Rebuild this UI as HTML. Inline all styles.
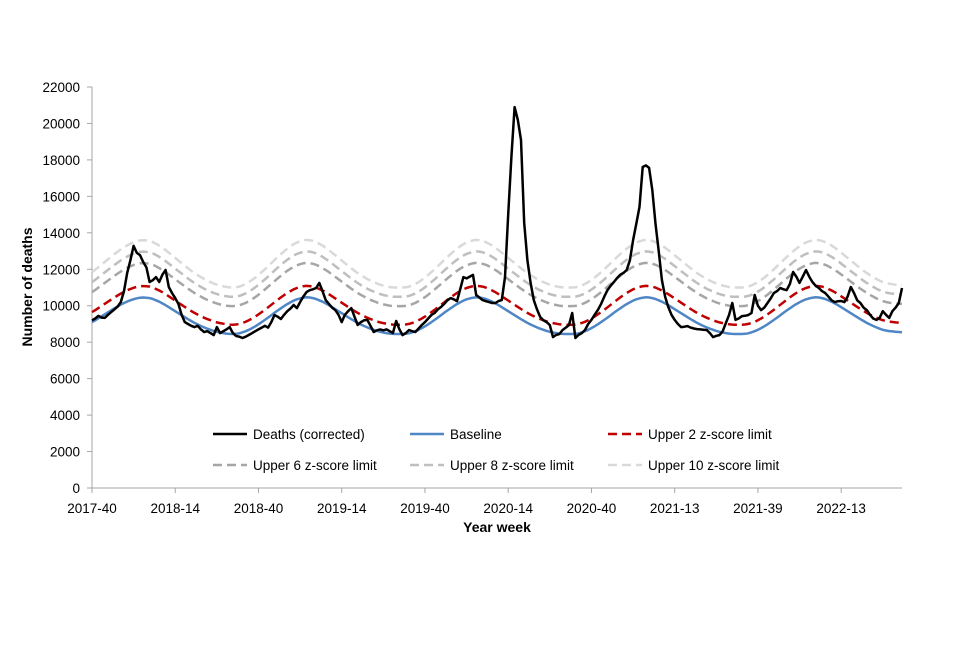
<!DOCTYPE html>
<html><head><meta charset="utf-8"><style>
body{margin:0;background:#fff;}
svg text{font-family:"Liberation Sans",Arial,sans-serif;fill:#000;}
</style></head><body>
<svg id="chart" width="960" height="640" viewBox="0 0 960 640"></svg>
<script>
const deaths=[9200,9300,9440,9350,9330,9500,9650,9800,9950,10200,
10800,11800,12500,13280,12900,12780,12400,12100,11300,11400,
11570,11300,11700,11960,11030,10700,10420,10100,9500,9100,
9000,8900,8830,8900,8700,8560,8600,8500,8390,8830,
8500,8600,8700,8830,8500,8340,8300,8230,8300,8400,
8500,8600,8700,8800,8900,8800,9100,9490,9400,9270,
9500,9700,9850,10040,9870,10200,10500,10750,10850,10900,
10970,11250,10800,10310,10100,9900,9760,9500,9100,9500,
9700,9870,9400,8940,9100,9200,9220,8900,8560,8650,
8700,8650,8700,8600,8500,9160,8700,8390,8500,8670,
8600,8560,8750,8940,9100,9300,9490,9600,9800,9930,
10100,10300,10420,10350,10250,10900,11570,11500,11600,11690,
10590,10450,10310,10250,10200,10150,10150,10260,10310,11570,
15000,18160,20900,20200,19090,14540,12500,11250,10310,9800,
9380,9200,9100,8940,8280,8400,8450,8670,8800,8940,
9600,8230,8400,8500,8670,9000,9220,9500,9760,10100,
10500,10860,11100,11300,11520,11700,11800,11960,12500,13600,
14500,15420,17610,17700,17560,16350,14500,13000,11410,10500,
9930,9500,9220,9000,8830,8850,8880,8800,8750,8720,
8700,8680,8670,8500,8280,8350,8390,8600,9050,9500,
10150,9220,9300,9430,9450,9490,9600,10590,10000,9760,
9900,10150,10400,10700,10800,10970,10900,10860,11200,11850,
11600,11250,11600,11960,11600,11300,11100,10970,10800,10700,
10500,10300,10200,10250,10260,10200,10500,11030,10700,10300,
10150,9900,9760,9500,9300,9220,9330,9700,9500,9330,
9700,9900,10150,10970];
const baseline=[9100,9200,9310,9420,9530,9640,9750,9860,9960,10060,10150,10230,10300,10360,10410,10440,10450,10440,
10420,10370,10300,10220,10130,10030,9920,9810,9700,9590,9480,9370,9260,9160,9060,8970,8890,8810,8740,8680,8620,8570,8530,8500,8470,8455,
8450,8460,8490,8540,8600,8680,8770,8870,8980,9100,9220,9350,9480,9610,9740,9860,9980,10090,10190,10280,10350,10400,10440,10460,10450,
10420,10370,10300,10220,10130,10030,9920,9810,9700,9590,9480,9370,9260,9160,9060,8970,8890,8810,8740,8680,8620,8570,8530,8500,8470,8455,8450,8450,
8450,8460,8490,8540,8600,8680,8770,8870,8980,9100,9220,9350,9480,9610,9740,9860,9980,10090,10190,10280,10350,10400,10440,10460,10450,
10420,10370,10300,10220,10130,10030,9920,9810,9700,9590,9480,9370,9260,9160,9060,8970,8890,8810,8740,8680,8620,8570,8530,8500,8470,8455,8450,8450,
8450,8460,8490,8540,8600,8680,8770,8870,8980,9100,9220,9350,9480,9610,9740,9860,9980,10090,10190,10280,10350,10400,10440,10460,10450,
10420,10370,10300,10220,10130,10030,9920,9810,9700,9590,9480,9370,9260,9160,9060,8970,8890,8810,8740,8680,8620,8570,8530,8500,8470,8455,8450,8450,
8450,8460,8490,8540,8600,8680,8770,8870,8980,9100,9220,9350,9480,9610,9740,9860,9980,10090,10190,10280,10350,10400,10440,10460,10450,
10420,10370,10300,10220,10130,10030,9920,9810,9700,9590,9480,9370,9260,9160,9060,8970,8890,8810,8740,8680,8640,8610,8590,8570,8560,8550];
const sdAtTrough=[255];
const sdAtPeak=[315];
const limitMultipliers=[2,6,8,10];
const yTicks=[0,2000,4000,6000,8000,10000,12000,14000,16000,18000,20000,22000];
const xTickLabels=["2017-40","2018-14","2018-40","2019-14","2019-40","2020-14","2020-40","2021-13","2021-39","2022-13"];
const xTickIndex=[0,26,52,78,104,130,156,182,208,234];

const NS="http://www.w3.org/2000/svg";
const svg=document.getElementById('chart');
const X0=92,X1=902,Y0=488,Y1=87,YMAX=22000,N=deaths.length;
const xs=i=>X0+(X1-X0)*i/(N-1);
const ys=v=>Y0-(Y0-Y1)*v/YMAX;
function mk(tag,attrs,parent){const e=document.createElementNS(NS,tag);for(const k in attrs)e.setAttribute(k,attrs[k]);(parent||svg).appendChild(e);return e;}

let ax=mk('line',{x1:X0,y1:Y1,x2:X0,y2:Y0,stroke:'#a6a6a6','stroke-width':1});


ax=mk('line',{x1:X0,y1:Y0,x2:X1,y2:Y0,stroke:'#a6a6a6','stroke-width':1});


yTicks.forEach(v=>{
  const t=mk('line',{x1:X0-5,y1:ys(v),x2:X0,y2:ys(v),stroke:'#a6a6a6'});
  
  
  const l=mk('text',{x:X0-12,y:ys(v)+5,'text-anchor':'end','font-size':13.5});
  l.textContent=v;
  
  
});
xTickIndex.forEach((ix,k)=>{
  const t=mk('line',{x1:xs(ix),y1:Y0,x2:xs(ix),y2:Y0+5,stroke:'#a6a6a6'});
  
  
  const l=mk('text',{x:xs(ix),y:Y0+25,'text-anchor':'middle','font-size':13.5});
  l.textContent=xTickLabels[k];
  
  
});
let tt=mk('text',{x:497,y:532,'text-anchor':'middle','font-size':14,'font-weight':'bold'});
tt.textContent='Year week';


tt=mk('text',{x:32,y:287,'text-anchor':'middle','font-size':14,'font-weight':'bold',transform:'rotate(-90 32 287)'});
tt.textContent='Number of deaths';



function path(vals,color,dash,w,name){
  let d='';vals.forEach((v,i)=>{d+=(i?'L':'M')+xs(i).toFixed(1)+','+ys(v).toFixed(1);});
  const p=mk('path',{d:d,fill:'none',stroke:color,'stroke-width':w,'stroke-dasharray':dash,'stroke-linejoin':'round'});
  
  
}
const bMin=Math.min(...baseline),bMax=Math.max(...baseline);
const sdOf=b=>sdAtTrough[0]+(sdAtPeak[0]-sdAtTrough[0])*(b-bMin)/(bMax-bMin);
const limColors=['#c00000','#a6a6a6','#bfbfbf','#d9d9d9'];
const limNames=['upper-2-z-line','upper-6-z-line','upper-8-z-line','upper-10-z-line'];
for(let k=limitMultipliers.length-1;k>=0;k--){
  path(baseline.map(b=>b+limitMultipliers[k]*sdOf(b)),limColors[k],'9 5',2.5,limNames[k]);
}
path(baseline,'#4f86c6','none',2.5,'baseline-line');
path(deaths,'#000','none',2.5,'deaths-line');

const leg=[['Deaths (corrected)','#000','none',213,434,'legend-deaths'],['Baseline','#4f86c6','none',410,434,'legend-baseline'],['Upper 2 z-score limit','#c00000','9 5',608,434,'legend-upper-2'],
['Upper 6 z-score limit','#a6a6a6','9 5',213,465,'legend-upper-6'],['Upper 8 z-score limit','#bfbfbf','9 5',410,465,'legend-upper-8'],['Upper 10 z-score limit','#d9d9d9','9 5',608,465,'legend-upper-10']];
leg.forEach(e=>{
  const g=mk('g',{});
  
  
  mk('line',{x1:e[3],y1:e[4],x2:e[3]+34,y2:e[4],stroke:e[1],'stroke-width':2.5,'stroke-dasharray':e[2]},g);
  const t=mk('text',{x:e[3]+40,y:e[4]+5,'font-size':13.5},g);t.textContent=e[0];
});
</script>
</body></html>
